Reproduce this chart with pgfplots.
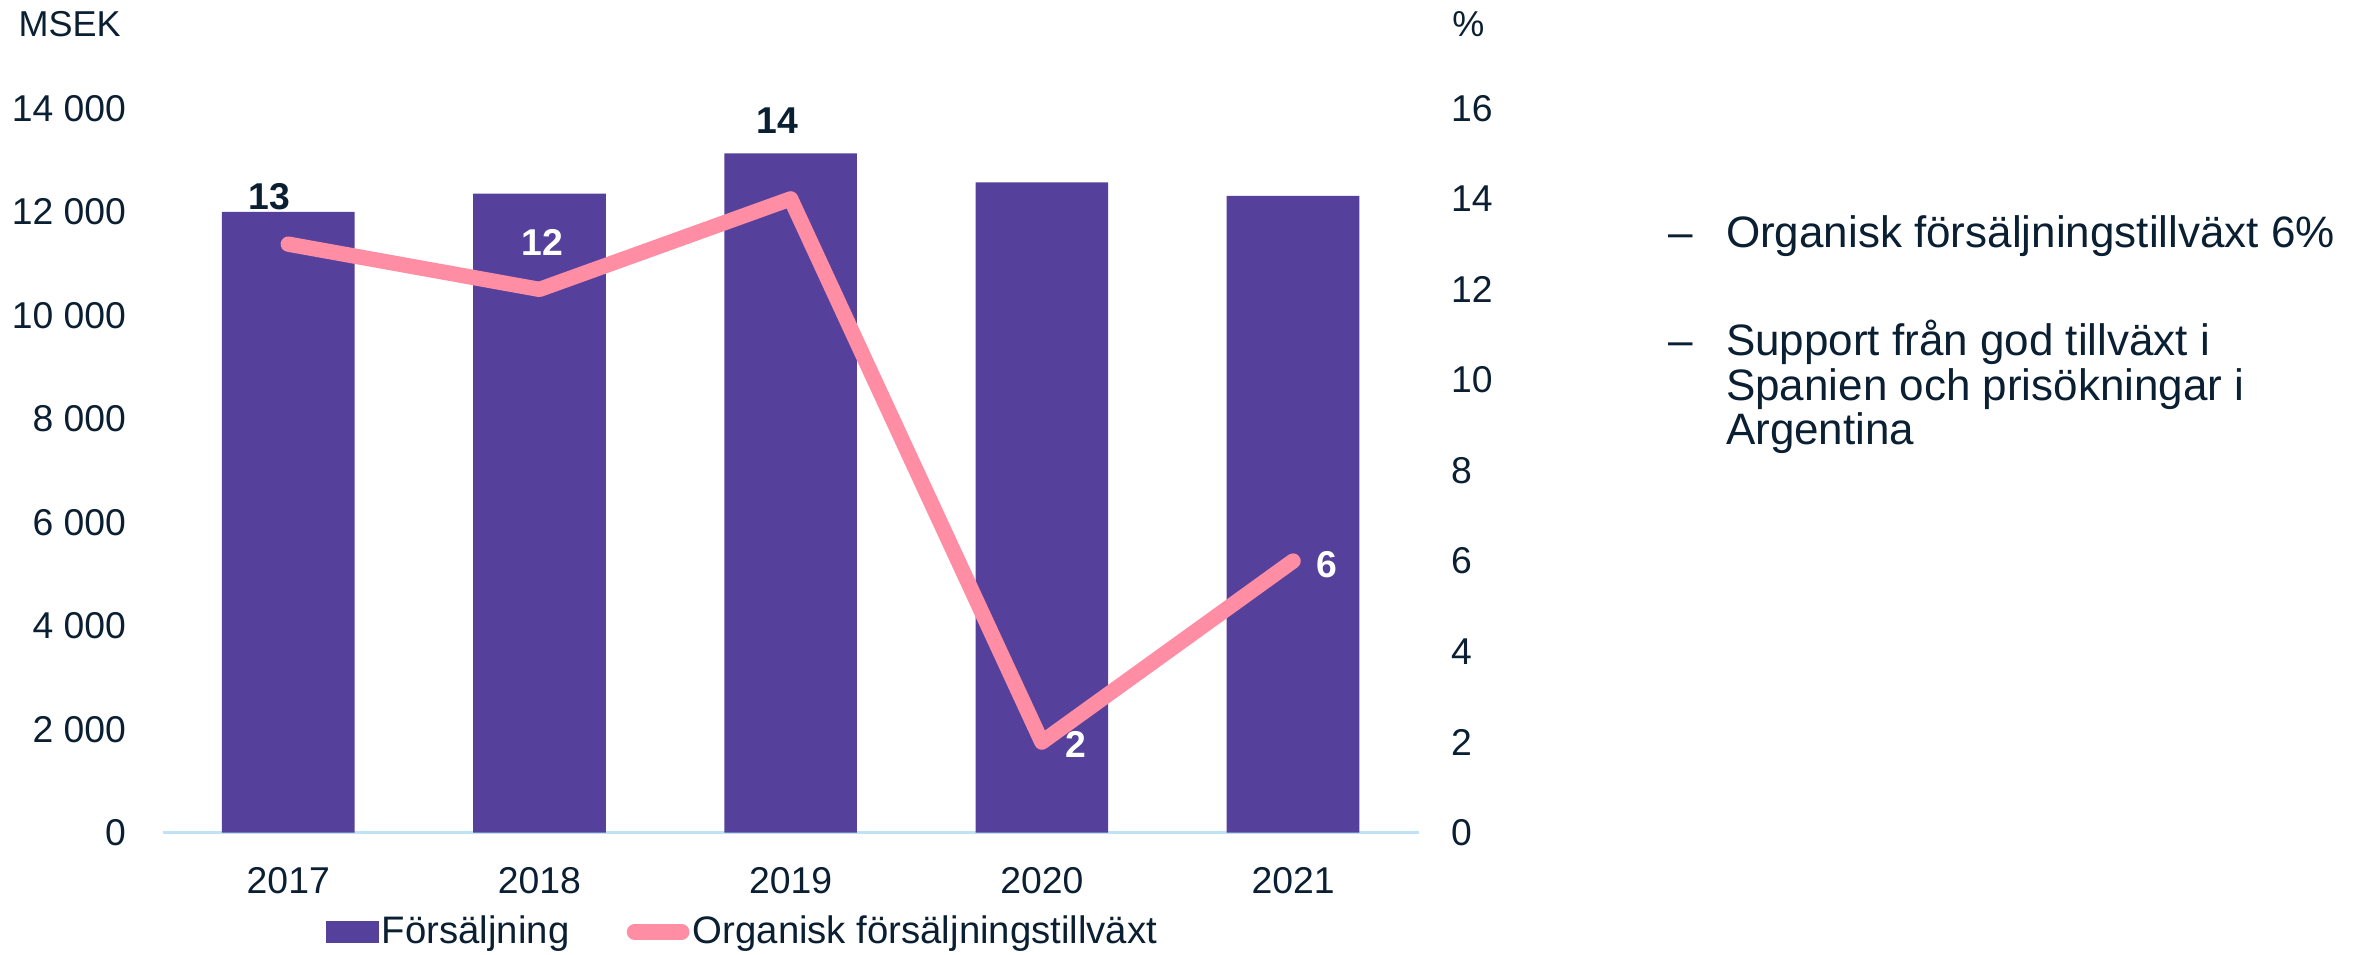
\documentclass[border=0pt]{standalone}
\usepackage{pgfplots}
\pgfplotsset{compat=1.18}
\usepackage{fontspec}
\setmainfont{Liberation Sans}
\definecolor{barc}{HTML}{55419B}
\definecolor{pinkc}{HTML}{FF8DA3}
\definecolor{axisc}{HTML}{BFE3F5}
\definecolor{textc}{HTML}{0B1F33}
\begin{document}
\begin{tikzpicture}
\path[use as bounding box] (-48.8pt,-36.4pt) rectangle (659.5pt,249.8pt);
\begin{axis}[
  at={(0pt,0pt)}, anchor=south west,
  scale only axis, width=376.8pt, height=217.3pt,
  xmin=-0.5, xmax=4.5, ymin=0, ymax=14000,
  xtick={0,1,2,3,4}, xticklabels={2017,2018,2019,2020,2021},
  ytick={0,2000,4000,6000,8000,10000,12000,14000},
  yticklabels={0,2 000,4 000,6 000,8 000,10 000,12 000,14 000},
  scaled y ticks=false,
  axis x line*=bottom, axis y line*=left,
  x axis line style={draw=axisc, line width=0.9pt, -},
  y axis line style={draw=none},
  major tick length=0pt, tick style={draw=none},
  ticklabel style={font=\fontsize{11.2}{13}\selectfont, text=textc, inner sep=0pt},
  yticklabel style={anchor=east, xshift=-10.8pt},
  xticklabel style={anchor=center, yshift=-14.5pt},
  clip=false,
]
\addplot[ybar, bar width=39.8pt, fill=barc, draw=none] coordinates {(0,12000) (1,12350) (2,13130) (3,12570) (4,12310)};
\end{axis}
\begin{axis}[
  at={(0pt,0pt)}, anchor=south west,
  scale only axis, width=376.8pt, height=217.3pt,
  xmin=-0.5, xmax=4.5, ymin=0, ymax=16,
  axis x line=none, axis y line*=right,
  y axis line style={draw=none},
  ytick={0,2,4,6,8,10,12,14,16},
  major tick length=0pt, tick style={draw=none},
  /pgf/number format/assume math mode=true,
  yticklabel style={anchor=west, xshift=9.5pt, font=\fontsize{11.2}{13}\selectfont, text=textc, inner sep=0pt},
  legend columns=2,
  legend cell align=left,
  legend style={draw=none, fill=none, at={(0.130,-0.137)}, anchor=west,
    inner sep=0pt, outer sep=0pt, row sep=0pt,
    font=\fontsize{11.5}{13}\selectfont, text=textc,
    nodes={inner sep=0pt},
    /tikz/every odd column/.append style={column sep=1pt},
    /tikz/every even column/.append style={column sep=17.2pt}},
  clip=false,
]
\addlegendimage{legend image code/.code={\fill[barc] (0pt,-3.1pt) rectangle (15.4pt,3.1pt);}}
\addlegendentry{Försäljning}
\addplot[pinkc, line width=4.6pt, line cap=round, line join=round,
  legend image code/.code={\draw[pinkc,line width=4.6pt,line cap=round] (2.3pt,0pt)--(16.5pt,0pt);}]
  coordinates {(0,13) (1,12) (2,14) (3,2) (4,6)};
\addlegendentry{Organisk försäljningstillväxt}
\node[font=\bfseries\fontsize{11.2}{13}\selectfont, text=textc, inner sep=0pt] at (axis cs:-0.074,14.04) {13};
\node[font=\bfseries\fontsize{11.2}{13}\selectfont, text=white, inner sep=0pt] at (axis cs:1.011,13.04) {12};
\node[font=\bfseries\fontsize{11.2}{13}\selectfont, text=textc, inner sep=0pt] at (axis cs:1.946,15.73) {14};
\node[font=\bfseries\fontsize{11.2}{13}\selectfont, text=white, inner sep=0pt] at (axis cs:3.136,1.94) {2};
\node[font=\bfseries\fontsize{11.2}{13}\selectfont, text=white, inner sep=0pt] at (axis cs:4.134,5.92) {6};
\end{axis}
\node[anchor=base west, inner sep=0pt, font=\fontsize{10.8}{12}\selectfont, text=textc] at (-43.4pt,238.8pt) {MSEK};
\node[anchor=base west, inner sep=0pt, font=\fontsize{10.8}{12}\selectfont, text=textc] at (386.7pt,238.8pt) {\%};
\begin{scope}[every node/.style={anchor=base west, inner sep=0pt, font=\fontsize{13.2}{15}\selectfont, text=textc}]
\node at (451.4pt,175.5pt) {–};
\node at (468.8pt,175.5pt) {Organisk försäljningstillväxt 6\%};
\node at (451.4pt,143.0pt) {–};
\node at (468.8pt,143.0pt) {Support från god tillväxt i};
\node at (468.8pt,129.7pt) {Spanien och prisökningar i};
\node at (468.8pt,116.3pt) {Argentina};
\end{scope}
\end{tikzpicture}
\end{document}
